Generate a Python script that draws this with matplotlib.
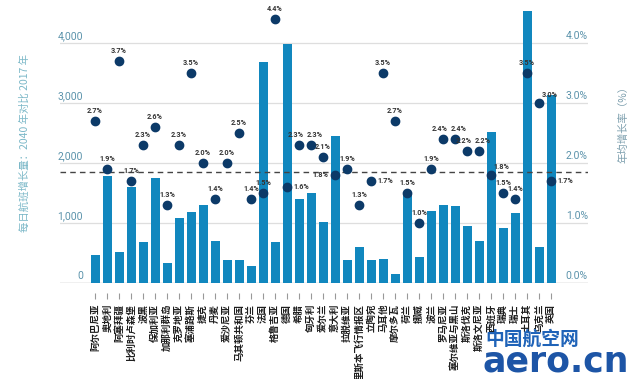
import matplotlib
matplotlib.use("Agg")
import matplotlib.pyplot as plt
import numpy as np

plt.rcParams['font.family'] = ['Noto Sans CJK SC', 'DejaVu Sans']

countries = ["阿尔巴尼亚", "奥地利", "阿塞拜疆", "比利时卢森堡", "波黑", "保加利亚",
             "加那利群岛", "克罗地亚", "塞浦路斯", "捷克", "丹麦", "爱沙尼亚",
             "马其顿共和国", "芬兰", "法国", "格鲁吉亚", "德国", "希腊", "匈牙利",
             "爱尔兰", "意大利", "拉脱维亚", "里斯本飞行情报区", "立陶宛", "马耳他",
             "摩尔多瓦", "荷兰", "挪威", "波兰", "罗马尼亚", "塞尔维亚与黑山",
             "斯洛伐克", "斯洛文尼亚", "西班牙", "瑞典", "瑞士", "土耳其", "乌克兰", "英国"]

flights_growth = [460, 1780, 510, 1600, 680, 1750,
                  330, 1080, 1180, 1300, 700, 380,
                  380, 280, 3680, 680, 3980, 1400, 1500,
                  1020, 2450, 380, 600, 380, 400,
                  150, 1500, 430, 1200, 1300, 1280,
                  950, 700, 2520, 920, 1170, 4530, 600, 3130]

annual_rate = [2.7, 1.9, 3.7, 1.7, 2.3, 2.6,
               1.3, 2.3, 3.5, 2.0, 1.4, 2.0,
               2.5, 1.4, 1.5, 4.4, 1.6, 2.3, 2.3,
               2.1, 1.8, 1.9, 1.3, 1.7, 3.5,
               2.7, 1.5, 1.0, 1.9, 2.4, 2.4,
               2.2, 2.2, 1.8, 1.5, 1.4, 3.5, 3.0, 1.7]

average_rate = 1.85

left_ticks = [0, 1000, 2000, 3000, 4000]
left_tick_labels = ["0", "1,000", "2,000", "3,000", "4,000"]
right_tick_labels = ["0.0%", "1.0%", "2.0%", "3.0%", "4.0%"]

# label placement (style only)
label_pos = ['a'] * len(countries)
for i in (16, 23, 38):
    label_pos[i] = 'r'
label_pos[20] = 'l'
for i in (33, 37):
    label_pos[i] = 'ur'
label_nudge = {17: -2.5, 18: 2.5, 29: -2.5, 30: 2.5, 31: -2.5, 32: 3.0}

W, H = 640, 379
fig = plt.figure(figsize=(W / 100, H / 100), dpi=100)
ax_l, ax_r, ax_b, ax_t = 60, 588, 283, 7
ax = fig.add_axes([ax_l / W, 1 - ax_b / H, (ax_r - ax_l) / W, (ax_b - ax_t) / H])

x = np.arange(len(countries))
px_per_unit = 12.0
first_px = 95
ax.set_xlim(-(first_px - ax_l) / px_per_unit, (ax_r - first_px) / px_per_unit)
ax.set_ylim(0, 4600)

bar_color = '#1187be'
dot_color = '#0c3a68'
tick_color = '#5b93ab'
num_font = ['Roboto', 'DejaVu Sans']

for yv in left_ticks[1:]:
    ax.axhline(yv, color='#dedede', lw=0.9, zorder=0)
ax.axhline(0, color='#b5b5b5', lw=1.0, zorder=1)

ax.bar(x, flights_growth, width=0.75, color=bar_color, zorder=2)

for s in ax.spines.values():
    s.set_visible(False)
ax.spines['bottom'].set_position(('outward', 7))
ax.set_yticks([])
ax.set_xticks(x)
ax.set_xticklabels(countries, rotation=90, fontsize=6.8, fontweight='bold', color='#1e1e1e',
                   va='top', ha='center')
ax.tick_params(axis='x', length=4, width=0.8, color='#999999', pad=4)

ytr = ax.get_yaxis_transform()
for yv, lab in zip(left_ticks, left_tick_labels):
    ax.annotate(lab, xy=((83 - ax_l) / (ax_r - ax_l), yv), xycoords=ytr,
                xytext=(0, 1.5), textcoords='offset points', ha='right', va='bottom',
                fontsize=7.5, color=tick_color, family=num_font)

ax2 = ax.twinx()
ax2.set_ylim(0, 4.6)
ax2.set_xlim(ax.get_xlim())
for s in ax2.spines.values():
    s.set_visible(False)
ax2.set_yticks([])
ytr2 = ax2.get_yaxis_transform()
for yv, lab in zip(left_ticks, right_tick_labels):
    ax2.annotate(lab, xy=(1.0, yv / 1000), xycoords=ytr2,
                 xytext=(0, 1.5), textcoords='offset points', ha='right', va='bottom',
                 fontsize=7.5, color=tick_color, family=num_font)

ax2.axhline(average_rate, color='#444444', lw=1.0, ls=(0, (4, 3)), zorder=3)
ax2.plot(x, annual_rate, 'o', ms=6, color=dot_color, zorder=4)

offsets = {'a': ((0, 4), 'center', 'bottom'),
           'r': ((4.5, 0), 'left', 'center'),
           'l': ((-4.5, 0), 'right', 'center'),
           'ur': ((2, 3), 'left', 'bottom')}
for i, (xi, v, p) in enumerate(zip(x, annual_rate, label_pos)):
    (dx, dy), ha, va = offsets[p]
    dx += label_nudge.get(i, 0)
    ax2.annotate(f"{v:.1f}%", xy=(xi, v), xytext=(dx, dy), textcoords='offset points',
                 ha=ha, va=va, fontsize=5.2, fontweight='bold', color='#333333',
                 family=num_font, zorder=5)

fig.text(25 / W, 1 - 143 / H, "每日航班增长量：2040 年对比 2017 年", rotation=90,
         ha='center', va='center', fontsize=7.5, color='#7ab7c7')
fig.text(623 / W, 1 - 122 / H, "年均增长率（%）", rotation=90,
         ha='center', va='center', fontsize=7.5, color='#7d9fae')

# watermark
fig.text(485 / W, 1 - 339 / H, "中国航空网", ha='left', va='center', fontsize=13.5,
         fontweight='bold', color='#1f63b8')
fig.text(483 / W, 1 - 361 / H, "aero.cn", ha='left', va='center', fontsize=25,
         fontweight='bold', color='#1d55a6', family=['DejaVu Sans'])

fig.savefig("out.png", dpi=100)
